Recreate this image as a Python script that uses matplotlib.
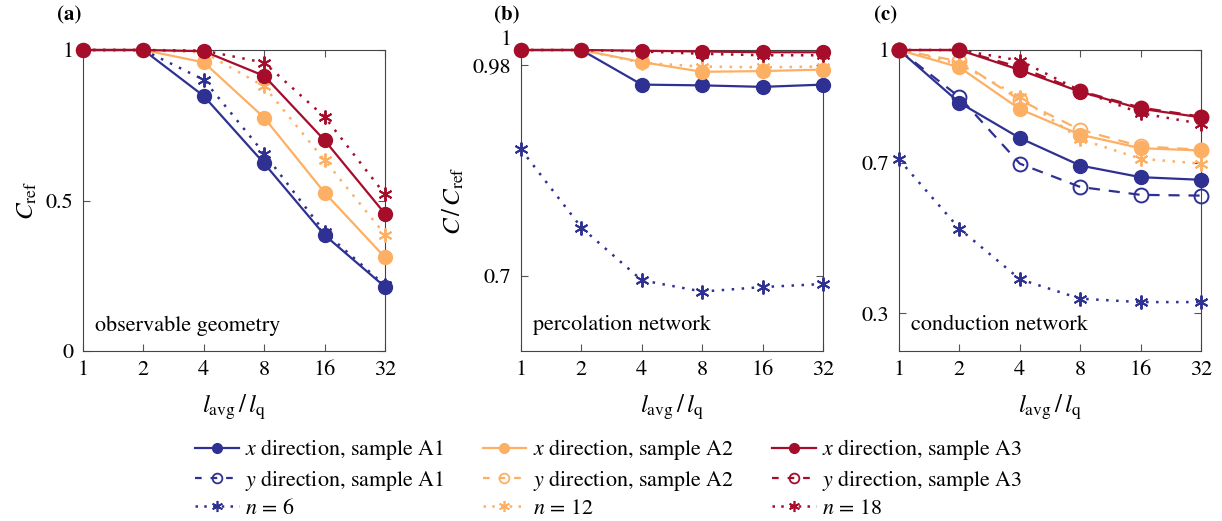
import matplotlib
matplotlib.use("Agg")
import matplotlib.pyplot as plt
from matplotlib.lines import Line2D

plt.rcParams['font.family'] = ['STIXGeneral', 'DejaVu Serif']
plt.rcParams['mathtext.fontset'] = 'stix'

# x axis: l_avg / l_q
ratio = [1, 2, 4, 8, 16, 32]

# (a) observable geometry
a_x_A1 = [1.0, 1.0, 0.847, 0.623, 0.385, 0.213]
a_x_A2 = [1.0, 1.0, 0.959, 0.775, 0.526, 0.311]
a_x_A3 = [1.0, 1.0, 0.996, 0.914, 0.700, 0.456]
a_n6 = [1.0, 1.0, 0.901, 0.656, 0.395, 0.218]
a_n12 = [1.0, 1.0, 0.992, 0.879, 0.634, 0.387]
a_n18 = [1.0, 1.0, 0.998, 0.958, 0.778, 0.520]

# (b) percolation network
b_x_A1 = [1.0, 1.0, 0.954, 0.953, 0.951, 0.954]
b_x_A2 = [1.0, 1.0, 0.984, 0.971, 0.972, 0.974]
b_x_A3 = [1.0, 1.0, 0.999, 0.998, 0.997, 0.997]
b_n6 = [0.868, 0.764, 0.694, 0.679, 0.685, 0.689]
b_n12 = [1.0, 1.0, 0.983, 0.978, 0.977, 0.978]
b_n18 = [1.0, 1.0, 0.998, 0.995, 0.993, 0.993]

# (c) conduction network
c_x_A1 = [1.0, 0.860, 0.766, 0.693, 0.662, 0.655]
c_x_A2 = [1.0, 0.954, 0.843, 0.775, 0.739, 0.733]
c_x_A3 = [1.0, 1.0, 0.947, 0.889, 0.844, 0.821]
c_y_A1 = [1.0, 0.875, 0.698, 0.636, 0.615, 0.613]
c_y_A2 = [1.0, 0.970, 0.867, 0.788, 0.744, 0.735]
c_y_A3 = [1.0, 1.0, 0.954, 0.891, 0.847, 0.823]
c_n6 = [0.709, 0.525, 0.391, 0.339, 0.330, 0.330]
c_n12 = [1.0, 0.963, 0.875, 0.763, 0.711, 0.698]
c_n18 = [1.0, 1.0, 0.972, 0.892, 0.832, 0.804]

blue = '#2e3192'
orange = '#fdb064'
red = '#a50d2a'
colors = [blue, orange, red]
star = (6, 2, 0)
dotted = (0, (1, 3))
dashed = (0, (5, 4))

fig = plt.figure(figsize=(12.22, 5.21), dpi=100)
lefts = [83 / 1222, 521 / 1222, 899 / 1222]
w = 302 / 1222
bottom = 170 / 521
h = 301 / 521


def style_ax(ax, ylim, yticks, yticklabels, ylabel, note, tag):
    ax.set_xscale('log', base=2)
    ax.set_xlim(1, 32)
    ax.set_xticks(ratio)
    ax.set_xticklabels([str(r) for r in ratio])
    ax.minorticks_off()
    ax.set_ylim(*ylim)
    ax.set_yticks(yticks)
    ax.set_yticklabels(yticklabels)
    ax.tick_params(direction='in', top=True, right=True, labelsize=16,
                   length=5, color='#555555', pad=7)
    for s in ax.spines.values():
        s.set_color('#444444')
    ax.set_xlabel(r'$l_{\mathrm{avg}}\,/\,l_{\mathrm{q}}$', fontsize=18, labelpad=9)
    ax.set_ylabel(ylabel, fontsize=18, labelpad=4)
    ax.text(0.04, 0.085, note, transform=ax.transAxes, fontsize=16,
            va='center', ha='left')
    ax.text(-0.005, 1.115, tag, transform=ax.transAxes, fontsize=15,
            fontweight='bold', va='center', ha='right')


def plot_x(ax, y, c):
    ax.plot(ratio, y, color=c, lw=1.6, marker='o', ms=10, clip_on=False, zorder=3)


def plot_y(ax, y, c):
    ax.plot(ratio, y, color=c, lw=1.6, ls=dashed, marker='o', ms=10, mfc='none',
            mew=1.4, clip_on=False, zorder=3)


def plot_n(ax, y, c):
    ax.plot(ratio, y, color=c, lw=1.8, ls=dotted, marker=star, ms=10, mew=1.4,
            clip_on=False, zorder=3)


# (a)
ax = fig.add_axes([lefts[0], bottom, w, h])
for yx, yn, c in zip([a_x_A1, a_x_A2, a_x_A3], [a_n6, a_n12, a_n18], colors):
    plot_n(ax, yn, c)
    plot_x(ax, yx, c)
style_ax(ax, (0, 1), [0, 0.5, 1], ['0', '0.5', '1'], r'$C_{\mathrm{ref}}$',
         'observable geometry', '(a)')

# (b)
ax = fig.add_axes([lefts[1], bottom, w, h])
for yx, yn, c in zip([b_x_A1, b_x_A2, b_x_A3], [b_n6, b_n12, b_n18], colors):
    plot_n(ax, yn, c)
    plot_x(ax, yx, c)
style_ax(ax, (0.6, 1), [0.7, 0.98, 1], ['0.7', '0.98', '1'],
         r'$C\,/\,C_{\mathrm{ref}}$', 'percolation network', '(b)')
ax.get_yticklabels()[2].set_va('bottom')

# (c)
ax = fig.add_axes([lefts[2], bottom, w, h])
for yx, yy, yn, c in zip([c_x_A1, c_x_A2, c_x_A3], [c_y_A1, c_y_A2, c_y_A3],
                         [c_n6, c_n12, c_n18], colors):
    plot_n(ax, yn, c)
    plot_y(ax, yy, c)
    plot_x(ax, yx, c)
style_ax(ax, (0.2, 1), [0.3, 0.7, 1], ['0.3', '0.7', '1'], '',
         'conduction network', '(c)')

# legend
samples = ['A1', 'A2', 'A3']
ns = ['6', '12', '18']
handles, labels = [], []
for c, s, n in zip(colors, samples, ns):
    handles.append(Line2D([], [], color=c, lw=1.6, marker='o', ms=7))
    labels.append(r'$x$ direction, sample ' + s)
    handles.append(Line2D([], [], color=c, lw=1.6, ls=(0, (3, 4)), marker='o', ms=7,
                          mfc='none', mew=1.3))
    labels.append(r'$y$ direction, sample ' + s)
    handles.append(Line2D([], [], color=c, lw=1.8, ls=(0, (1, 2.5)), marker=star,
                          ms=8, mew=1.2))
    labels.append(r'$n$ = ' + n)
fig.legend(handles, labels, ncol=3, loc='center', bbox_to_anchor=(0.498, 0.0825),
           frameon=False, fontsize=15.8, handlelength=2.0, handletextpad=0.28,
           columnspacing=1.75, labelspacing=0.25)

fig.savefig('out.png', dpi=100)
